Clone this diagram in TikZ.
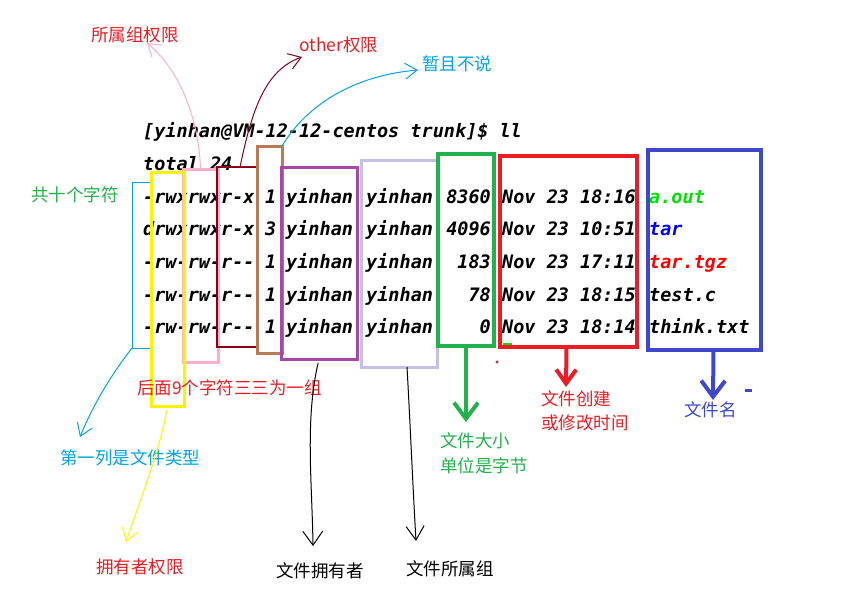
\documentclass[tikz,border=0pt]{standalone}
\usepackage{fontspec}
\newfontfamily\cjk{Noto Sans CJK SC}
\newfontfamily\term{DejaVu Sans Mono}[Ligatures=TeXOff]
\usetikzlibrary{arrows.meta,calc}
\definecolor{cYel}{HTML}{FFF200}
\definecolor{cPink}{HTML}{FFAEC9}
\definecolor{cMaroon}{HTML}{880015}
\definecolor{cBrown}{HTML}{B97A57}
\definecolor{cPurple}{HTML}{A349A4}
\definecolor{cLav}{HTML}{C8BFE7}
\definecolor{cGreen}{HTML}{22B14C}
\definecolor{cRed}{HTML}{ED1C24}
\definecolor{cBlue}{HTML}{3F48CC}
\definecolor{cTurq}{HTML}{00A2E8}
\definecolor{cLime}{HTML}{00E000}
\definecolor{cPureBlue}{HTML}{0000FF}
\definecolor{cPureRed}{HTML}{FF0000}
\begin{document}
\begin{tikzpicture}[x=1pt,y=-1pt,
  tt/.style={anchor=base west, inner sep=0pt, font=\term\bfseries\itshape\fontsize{18.5}{18.5}\selectfont},
  lbl/.style={anchor=west, inner sep=0pt, font=\cjk\fontsize{17.5}{21}\selectfont},
  colbox/.style={draw, anchor=north west, inner sep=0pt, outer sep=0pt},
  hand/.style={line width=1pt, -{Straight Barb[length=12pt,width=16pt]}},
  fat/.style={line width=4pt, -{Straight Barb[length=16pt,width=24pt]}}
]
\fill[white] (0,0) rectangle (856,590);
\useasboundingbox (0,0) rectangle (856,590);

% terminal text
\node[tt] (cmd) at (143,137) {[yinhan@VM-12-12-centos trunk]\$ ll};
\node[tt] (tot) at (143,170) {total 24};
\foreach \i/\p/\l/\s/\d/\f/\c in {
  1/-rwxrwxr-x/1/8360/Nov 23 18:16/a.out/cLime,
  2/drwxrwxr-x/3/4096/Nov 23 10:51/tar/cPureBlue,
  3/-rw-rw-r--/1/183/Nov 23 17:11/tar.tgz/cPureRed,
  4/-rw-rw-r--/1/78/Nov 23 18:15/test.c/black,
  5/-rw-rw-r--/1/0/Nov 23 18:14/think.txt/black}{
  \pgfmathsetmacro{\yy}{203+(\i-1)*32.7}
  \node[tt] (perm\i) at (143,\yy) {\p};
  \node[tt] (lnk\i) at (265,\yy) {\l};
  \node[tt] (own\i) at (286,\yy) {yinhan};
  \node[tt] (grp\i) at (366,\yy) {yinhan};
  \node[tt, anchor=base east] (sz\i) at (491,\yy) {\s};
  \node[tt] (dt\i) at (502,\yy) {\d};
  \node[tt, text=\c] (fn\i) at (649,\yy) {\f};
}

% boxes
\node[colbox, draw=cPink, line width=3pt, minimum width=35pt, minimum height=193pt] (pink) at (183,169) {};
\node[colbox, draw=cYel, line width=3pt, minimum width=33pt, minimum height=234pt] (yel) at (151,172) {};
\node[colbox, draw=cMaroon, line width=2.5pt, minimum width=40pt, minimum height=180pt] (mar) at (217,167) {};
\node[colbox, draw=cBrown, line width=3pt, minimum width=25pt, minimum height=207pt] (brn) at (257,146) {};
\node[colbox, draw=cPurple, line width=3pt, minimum width=76pt, minimum height=192pt] (pur) at (281,167) {};
\node[colbox, draw=cLav, line width=3pt, minimum width=76pt, minimum height=207pt] (lav) at (361,160) {};
\node[colbox, draw=cGreen, line width=4pt, minimum width=56pt, minimum height=192pt] (grn) at (438,154) {};
\node[colbox, draw=cRed, line width=4pt, minimum width=137pt, minimum height=191pt] (redb) at (500,156) {};
\node[colbox, draw=cBlue, line width=4pt, minimum width=113pt, minimum height=200pt] (blu) at (648,150) {};

% cyan bracket
\draw[cTurq, line width=1pt] (150,182) -- (132,182) -- (132,348) coordinate (brk) -- (150,348);

% labels
\node[lbl, text=cRed] (lGP) at (91,35) {所属组权限};
\node[lbl, text=cRed] (lOther) at (299,45) {other权限};
\node[lbl, text=cTurq] (lSkip) at (422,64) {暂且不说};
\node[lbl, text=cGreen] (lTen) at (31,195) {共十个字符};
\node[lbl, text=cRed] (lNine) at (137,388) {后面9个字符三三为一组};
\node[lbl, text=cTurq] (lType) at (60,458) {第一列是文件类型};
\node[lbl, text=cRed] (lOwnP) at (96,567) {拥有者权限};
\node[lbl, text=black] (lOwner) at (276,571) {文件拥有者};
\node[lbl, text=black] (lGroup) at (406,569) {文件所属组};
\node[lbl, text=cGreen] (lSizeA) at (440,441) {文件大小};
\node[lbl, text=cGreen] (lSizeB) at (440,466) {单位是字节};
\node[lbl, text=cRed] (lTimeA) at (541,399) {文件创建};
\node[lbl, text=cRed] (lTimeB) at (541,423) {或修改时间};
\node[lbl, text=cBlue] (lName) at (684,410) {文件名};

% arrow tips
\coordinate (tGP) at (147,43);
\coordinate (tOther) at (302,57);
\coordinate (tSkip) at (418,70);
\coordinate (tType) at (80,437);
\coordinate (tOwnP) at (126,542);
\coordinate (tOwner) at (313,546);
\coordinate (tGroup) at (416,541);
\coordinate (tSize) at (466,422);
\coordinate (tTime) at (566,387);
\coordinate (tName) at (713,400);

% connectors
\draw[cPink, hand] (pink.north) .. controls (199,120) and (180,70) .. (tGP);
\draw[cMaroon, hand] ($(mar.north)+(3,0)$) .. controls (252,110) and (265,70) .. (tOther);
\draw[cTurq, hand] (brn.north east) .. controls (310,100) and (360,75) .. (tSkip);
\draw[cTurq, hand] (brk) .. controls (115,370) and (95,400) .. (tType);
\draw[cYel, hand, shorten <=4pt] (yel.south) .. controls (160,450) and (140,500) .. (tOwnP);
\draw[black, hand, shorten <=4pt, -{Straight Barb[length=14pt,width=20pt]}] (pur.south) .. controls (305,420) and (312,480) .. (tOwner);
\draw[black, hand, -{Straight Barb[length=14pt,width=18pt]}] ($(lav.south)+(8,0)$) .. controls (410,420) and (413,490) .. (tGroup);
\draw[cGreen, fat] (grn.south) -- (tSize);
\draw[cRed, fat, -{Straight Barb[length=14pt,width=20pt]}] ($(redb.south)+(-2,0)$) -- (tTime);
\draw[cBlue, fat] ($(blu.south)+(9,0)$) -- (tName);

% small marks
\fill[cRed] (497,362) circle (1.6);
\draw[cBlue, line width=3pt] (745,390) -- (752,390);
\draw[cLime, line width=2pt] (503,344) -- (512,344);
\end{tikzpicture}
\end{document}
